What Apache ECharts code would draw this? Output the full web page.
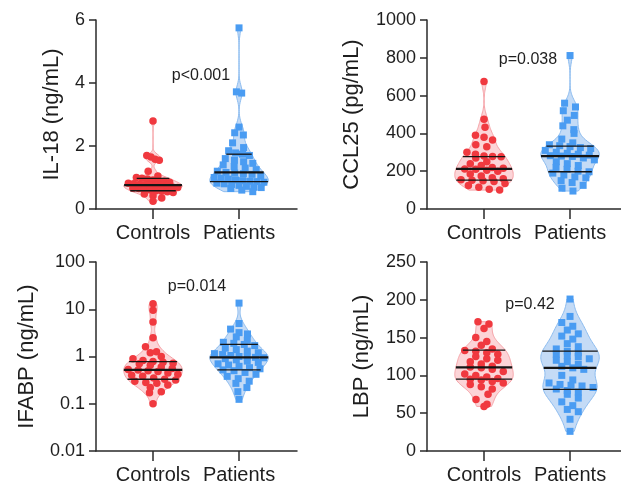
<!DOCTYPE html>
<html>
<head>
<meta charset="utf-8">
<script src="https://cdn.jsdelivr.net/npm/echarts@6/dist/echarts.min.js"></script>
<style>
html, body { margin: 0; padding: 0; background: #fff; }
#main { width: 621px; height: 485px; }
</style>
</head>
<body>
<div id="main"></div>
<script>
// 数据
var categories = ['Controls', 'Patients'];

var il18Controls = [2.79, 1.70, 1.65, 1.58, 1.55, 1.20, 1.05, 1.00, 0.98, 0.95, 0.92, 0.90, 0.88, 0.85, 0.82, 0.80, 0.78, 0.77, 0.76, 0.75, 0.74, 0.72, 0.70, 0.68, 0.66, 0.65, 0.62, 0.60, 0.58, 0.56, 0.55, 0.52, 0.48, 0.42, 0.35, 0.25];
var il18Patients = [5.75, 3.72, 3.68, 2.60, 2.42, 2.35, 2.10, 1.95, 1.85, 1.78, 1.74, 1.70, 1.60, 1.55, 1.50, 1.45, 1.40, 1.35, 1.30, 1.25, 1.20, 1.16, 1.14, 1.12, 1.10, 1.05, 1.00, 0.98, 0.95, 0.92, 0.90, 0.88, 0.87, 0.85, 0.82, 0.80, 0.78, 0.75, 0.72, 0.70, 0.68, 0.65, 0.60, 0.55];
var il18ControlsQ = [0.58, 0.76, 0.97];
var il18PatientsQ = [0.87, 1.16, 1.74];

var ccl25Controls = [674, 475, 432, 390, 380, 365, 340, 330, 300, 290, 280, 278, 276, 270, 250, 240, 230, 220, 215, 212, 210, 205, 200, 185, 175, 165, 160, 155, 152, 150, 145, 135, 125, 115, 105, 100];
var ccl25Patients = [812, 560, 540, 520, 495, 470, 440, 420, 400, 370, 350, 340, 335, 330, 325, 320, 310, 300, 295, 290, 285, 282, 280, 278, 270, 260, 250, 240, 230, 220, 210, 200, 197, 190, 180, 170, 165, 150, 140, 125, 110, 95];
var ccl25ControlsQ = [153, 212, 277];
var ccl25PatientsQ = [197, 280, 333];

var ifabpControls = [13, 9.5, 5.4, 2.5, 1.6, 1.26, 1.2, 1.0, 0.9, 0.82, 0.78, 0.76, 0.72, 0.7, 0.65, 0.6, 0.56, 0.53, 0.52, 0.5, 0.48, 0.45, 0.42, 0.4, 0.38, 0.35, 0.33, 0.32, 0.3, 0.28, 0.27, 0.25, 0.22, 0.18, 0.17, 0.1];
var ifabpPatients = [13.5, 5, 3.8, 3.2, 3.0, 2.6, 2.2, 2.0, 1.9, 1.8, 1.7, 1.5, 1.4, 1.3, 1.2, 1.15, 1.1, 1.05, 1.0, 0.98, 0.96, 0.94, 0.9, 0.85, 0.8, 0.75, 0.7, 0.66, 0.62, 0.58, 0.55, 0.52, 0.5, 0.46, 0.42, 0.38, 0.34, 0.3, 0.27, 0.22, 0.18, 0.124];
var ifabpControlsQ = [0.33, 0.52, 0.78];
var ifabpPatientsQ = [0.52, 0.96, 1.8];

var lbpControls = [171, 168, 162, 150, 145, 140, 135, 133, 132, 130, 128, 125, 122, 120, 118, 115, 112, 111, 110, 108, 105, 102, 100, 98, 96, 95, 94, 92, 90, 88, 85, 82, 75, 68, 62, 59];
var lbpPatients = [201, 178, 170, 165, 160, 155, 152, 148, 142, 138, 135, 132, 130, 128, 126, 125, 122, 120, 118, 115, 112, 110, 108, 100, 94, 90, 88, 87, 86, 84, 82, 80, 78, 75, 70, 65, 60, 55, 52, 42, 26];
var lbpControlsQ = [95, 110.5, 133.5];
var lbpPatientsQ = [81.5, 110, 132];

var pTexts = ['p<0.001', 'p=0.038', 'p=0.014', 'p=0.42'];

var panels = [
    { name: 'IL-18 (ng/mL)', log: false, min: 0, max: 6, interval: 2, left: 96, top: 20, nameGap: 33, p: [201, 76],
      groups: [[il18Controls, il18ControlsQ], [il18Patients, il18PatientsQ]] },
    { name: 'CCL25 (pg/mL)', log: false, min: 0, max: 1000, interval: 200, left: 427, top: 20, nameGap: 64, p: [528, 60],
      groups: [[ccl25Controls, ccl25ControlsQ], [ccl25Patients, ccl25PatientsQ]] },
    { name: 'IFABP (ng/mL)', log: true, min: 0.01, max: 100, left: 96, top: 262, nameGap: 58, p: [197, 287],
      groups: [[ifabpControls, ifabpControlsQ], [ifabpPatients, ifabpPatientsQ]] },
    { name: 'LBP (ng/mL)', log: false, min: 0, max: 250, interval: 50, left: 427, top: 262, nameGap: 54, p: [530, 305],
      groups: [[lbpControls, lbpControlsQ], [lbpPatients, lbpPatientsQ]] }
];

var FONT = '"Liberation Sans", Arial, sans-serif';
var pointColor = ['#f0393f', '#4a9cf2'];
var violinFill = ['#fcd4d7', '#c4dbf6'];
var violinLine = ['#f6a2a7', '#8cbcf0'];
var symbols = ['circle', 'rect'];
var symbolSizes = [7.5, 7];
var HALF = 0.34;

// 核密度估计, 截断于最小/最大值
function kdeProfile(values, log) {
    var t = values.map(function (v) { return log ? Math.log10(v) : v; }).sort(function (a, b) { return a - b; });
    var n = t.length;
    var mean = t.reduce(function (s, v) { return s + v; }, 0) / n;
    var sd = Math.sqrt(t.reduce(function (s, v) { return s + (v - mean) * (v - mean); }, 0) / (n - 1));
    var iqr = t[Math.floor(n * 0.75)] - t[Math.floor(n * 0.25)];
    var h = 0.9 * Math.min(sd, iqr / 1.34) * Math.pow(n, -0.2) * 0.8;
    function dens(x) {
        var s = 0;
        for (var i = 0; i < n; i++) { var u = (x - t[i]) / h; s += Math.exp(-0.5 * u * u); }
        return s;
    }
    var lo = t[0], hi = t[n - 1], steps = 90, prof = [], fmax = 0;
    for (var k = 0; k <= steps; k++) {
        var x = lo + (hi - lo) * k / steps;
        var f = dens(x);
        fmax = Math.max(fmax, f);
        prof.push([x, f]);
    }
    var back = function (x) { return log ? Math.pow(10, x) : x; };
    return {
        prof: prof.map(function (p) { return [back(p[0]), p[1] / fmax * HALF]; }),
        widthAt: function (v) { return dens(log ? Math.log10(v) : v) / fmax * HALF; }
    };
}

function violinItem(center, prof, gi) {
    return function (params, api) {
        var pts = [];
        prof.forEach(function (s) { pts.push(api.coord([center + s[1], s[0]])); });
        for (var i = prof.length - 1; i >= 0; i--) pts.push(api.coord([center - prof[i][1], prof[i][0]]));
        return {
            type: 'polygon',
            shape: { points: pts },
            style: { fill: violinFill[gi], stroke: violinLine[gi], lineWidth: 1 }
        };
    };
}

function quartileItem(center, q, widthAt) {
    return function (params, api) {
        var children = q.map(function (v, i) {
            var w = widthAt(v);
            var a = api.coord([center - w, v]), b = api.coord([center + w, v]);
            return {
                type: 'line',
                shape: { x1: a[0], y1: a[1], x2: b[0], y2: b[1] },
                style: { stroke: '#151515', lineWidth: i === 1 ? 2.2 : 1.3 }
            };
        });
        return { type: 'group', children: children };
    };
}

var chart = echarts.init(document.getElementById('main'));

var grids = [], xAxes = [], yAxes = [], series = [], graphics = [], kdes = [];
var axisLineStyle = { color: '#2a2a2a', width: 1.5 };

panels.forEach(function (pn, pi) {
    grids.push({ left: pn.left, top: pn.top, width: 201, height: 189, outerBoundsMode: 'none' });
    xAxes.push({
        type: 'value', gridIndex: pi, min: 0.337, max: 2.674,
        axisLine: { show: true, onZero: false, lineStyle: axisLineStyle },
        axisTick: { show: true, customValues: [1, 2], length: 10, lineStyle: axisLineStyle },
        axisLabel: {
            customValues: [1, 2], margin: 14, color: '#1e1e1e', fontSize: 20, fontFamily: FONT,
            formatter: function (v) { return categories[Math.round(v) - 1]; }
        },
        splitLine: { show: false }
    });
    var y = {
        type: pn.log ? 'log' : 'value', gridIndex: pi, min: pn.min, max: pn.max,
        name: pn.name, nameLocation: 'middle', nameGap: pn.nameGap,
        nameTextStyle: { color: '#1e1e1e', fontSize: 22, fontFamily: FONT },
        axisLine: { show: true, lineStyle: axisLineStyle },
        axisTick: { show: true, length: 7, lineStyle: axisLineStyle },
        axisLabel: { margin: 11, color: '#1e1e1e', fontSize: 18, fontFamily: FONT,
            formatter: function (v) { return String(+v.toPrecision(6)); } },
        splitLine: { show: false }
    };
    if (pn.log) y.logBase = 10; else y.interval = pn.interval;
    yAxes.push(y);

    kdes[pi] = [];
    pn.groups.forEach(function (g, gi) {
        var center = gi + 1;
        var k = kdeProfile(g[0], pn.log);
        kdes[pi][gi] = k;
        series.push({
            type: 'custom', xAxisIndex: pi, yAxisIndex: pi, z: 1, silent: true,
            renderItem: violinItem(center, k.prof, gi),
            data: [[center, g[1][1]]]
        });
        series.push({
            id: 'pts' + pi + '_' + gi, type: 'scatter', xAxisIndex: pi, yAxisIndex: pi, z: 2,
            symbol: symbols[gi], symbolSize: symbolSizes[gi],
            itemStyle: { color: pointColor[gi], opacity: 1 },
            data: g[0].map(function (v) { return [center, v]; })
        });
        series.push({
            type: 'custom', xAxisIndex: pi, yAxisIndex: pi, z: 3, silent: true,
            renderItem: quartileItem(center, g[1], k.widthAt),
            data: [[center, g[1][1]]]
        });
    });

    graphics.push({
        type: 'text', x: pn.p[0], y: pn.p[1],
        style: { text: pTexts[pi], fill: '#1e1e1e', font: '16px ' + FONT, textAlign: 'center', textVerticalAlign: 'middle' }
    });
});

option = {
    animation: false,
    backgroundColor: '#fff',
    grid: grids,
    xAxis: xAxes,
    yAxis: yAxes,
    series: series,
    graphic: graphics
};
chart.setOption(option);

// 散点分行排布在小提琴宽度之内, 相邻行错开
function rowLayout(pys, halfPx, binH, maxGap) {
    var idx = pys.map(function (p, i) { return i; }).sort(function (a, b) { return pys[a] - pys[b]; });
    var out = [], row = [], rowStart = null, rowNo = 0;
    function flush() {
        if (!row.length) return;
        var m = row.length;
        var meanY = row.reduce(function (s, i) { return s + pys[i]; }, 0) / m;
        var W = halfPx(meanY) * 0.85;
        var gap = m > 1 ? Math.min(2 * W / (m - 1), maxGap) : 0;
        var shift = (rowNo % 2 ? 1 : -1) * Math.min(gap * 0.25, Math.max(0, W - gap * (m - 1) / 2));
        if (m === 1) shift = (rowNo % 3 - 1) * Math.min(4, Math.max(0, W - 4));
        row.forEach(function (i, j) { out[i] = (j - (m - 1) / 2) * gap + shift; });
        rowNo++;
        row = [];
    }
    idx.forEach(function (i) {
        if (rowStart === null || pys[i] - rowStart > binH) { flush(); rowStart = pys[i]; }
        row.push(i);
    });
    flush();
    return out;
}

var updates = [];
panels.forEach(function (pn, pi) {
    var px1 = chart.convertToPixel({ gridIndex: pi }, [1, pn.log ? 1 : pn.min])[0];
    var px2 = chart.convertToPixel({ gridIndex: pi }, [2, pn.log ? 1 : pn.min])[0];
    var unit = px2 - px1;
    pn.groups.forEach(function (g, gi) {
        var k = kdes[pi][gi];
        var pys = g[0].map(function (v) { return chart.convertToPixel({ gridIndex: pi }, [1, v])[1]; });
        var halfPx = function (py) {
            var v = chart.convertFromPixel({ gridIndex: pi }, [px1, py])[1];
            return k.widthAt(v) * unit;
        };
        var offs = rowLayout(pys, halfPx, 5, 11);
        updates.push({
            id: 'pts' + pi + '_' + gi,
            data: g[0].map(function (v, i) { return [gi + 1 + offs[i] / unit, v]; })
        });
    });
});
chart.setOption({ series: updates });
</script>
</body>
</html>
